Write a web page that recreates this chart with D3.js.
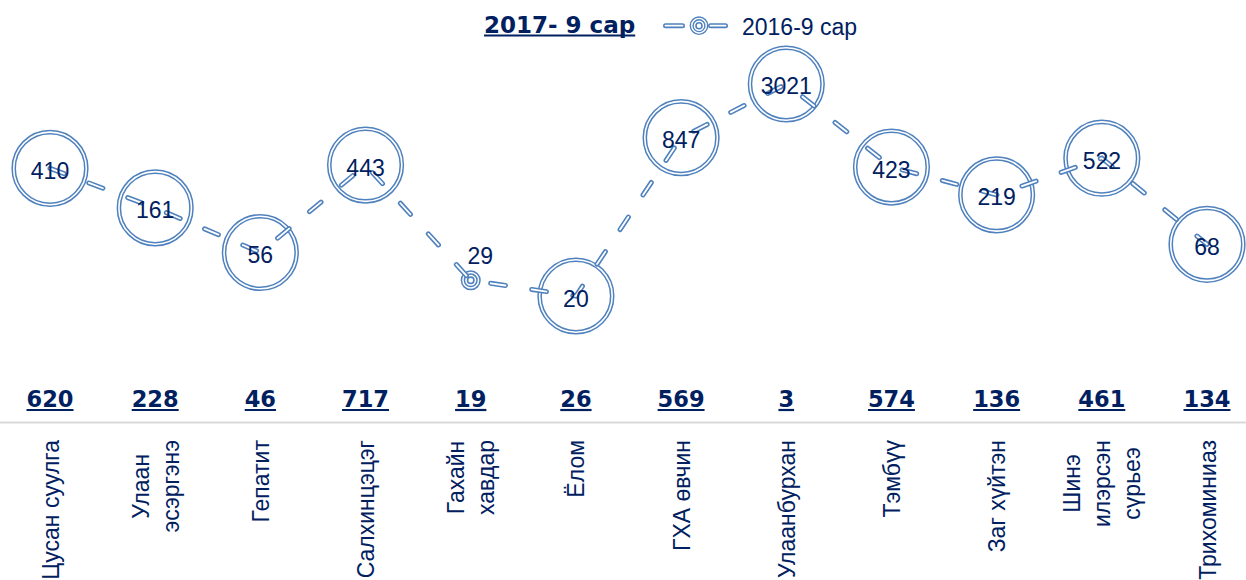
<!DOCTYPE html>
<html>
<head>
<meta charset="utf-8">
<script src="https://cdn.jsdelivr.net/npm/d3@7"></script>
<style>
  html, body { margin: 0; padding: 0; background: #ffffff; }
  svg { display: block; }
</style>
</head>
<body>
<svg id="chart" width="1246" height="580"></svg>
<script>
// ---- data ----
const categories = [
  "Цусан суулга", "Улаан\nэсэргэнэ", "Гепатит", "Салхинцэцэг", "Гахайн\nхавдар", "Ёлом",
  "ГХА өвчин", "Улаанбурхан", "Тэмбүү", "Заг хүйтэн", "Шинэ\nилэрсэн\nсүрьеэ", "Трихоминиаз"
];
const values2016 = [410, 161, 56, 443, 29, 20, 847, 3021, 423, 219, 522, 68];
const values2017 = [620, 228, 46, 717, 19, 26, 569, 3, 574, 136, 461, 134];
const seriesNames = ["2017- 9 сар", "2016-9 сар"];
const yDomain = [1, 10000];

// ---- styles ----
const BLUE = "#4F81BD";
const NAVY = "#002060";
const REG = "'Liberation Sans', Arial, sans-serif";
const BOLD = "'DejaVu Sans', Verdana, sans-serif";

const svg = d3.select("#chart");

const x = d3.scalePoint().domain(categories).range([50, 1207]);
const y = d3.scaleLog().domain(yDomain).range([422.6, 33.4]);

// axis baseline (category axis at value 1)
const xAxis = d3.axisBottom(x).tickSize(0).tickFormat("");
const axisG = svg.append("g").attr("transform", `translate(0,${y(1)})`).call(xAxis);
axisG.select(".domain").remove();
svg.append("line")
  .attr("x1", 0).attr("x2", 1246)
  .attr("y1", y(1)).attr("y2", y(1))
  .attr("stroke", "#d9d9d9").attr("stroke-width", 2);

const pts = categories.map((c, i) => ({c, v: values2016[i], i}));
const line = d3.line().x(d => x(d.c)).y(d => y(d.v));

// markers
const smallMarkerIndex = 4;
const mk = svg.append("g");
pts.forEach(d => {
  const cx = x(d.c), cy = y(d.v);
  if (d.i === smallMarkerIndex) {
    mk.append("circle").attr("cx", cx).attr("cy", cy).attr("r", 7.8)
      .attr("fill", "white").attr("stroke", BLUE).attr("stroke-width", 4.5);
    mk.append("circle").attr("cx", cx).attr("cy", cy).attr("r", 7.8)
      .attr("fill", "none").attr("stroke", "white").attr("stroke-width", 1.5);
    mk.append("circle").attr("cx", cx).attr("cy", cy).attr("r", 3.2)
      .attr("fill", "white").attr("stroke", BLUE).attr("stroke-width", 1.6);
  } else {
    mk.append("circle").attr("cx", cx).attr("cy", cy).attr("r", 36.3)
      .attr("fill", "none").attr("stroke", BLUE).attr("stroke-width", 4.6);
    mk.append("circle").attr("cx", cx).attr("cy", cy).attr("r", 36.3)
      .attr("fill", "none").attr("stroke", "white").attr("stroke-width", 1.6);
  }
});

// dashed compound line
svg.append("path").datum(pts).attr("d", line)
  .attr("fill", "none").attr("stroke", BLUE).attr("stroke-width", 5)
  .attr("stroke-linecap", "round").attr("stroke-dasharray", "15 26.5");
svg.append("path").datum(pts).attr("d", line)
  .attr("fill", "none").attr("stroke", "white").attr("stroke-width", 1.8)
  .attr("stroke-linecap", "round").attr("stroke-dasharray", "15 26.5");

// 2016 data labels
pts.forEach(d => {
  const small = d.i === smallMarkerIndex;
  svg.append("text")
    .attr("x", x(d.c) + (small ? 9.5 : 0))
    .attr("y", y(d.v) + (small ? -16.5 : 10.5))
    .attr("text-anchor", "middle")
    .attr("font-family", REG).attr("font-size", 23)
    .attr("fill", NAVY)
    .text(d.v);
});

// 2017 values row (bold underlined)
function underlined(g, tx, ty, txt, size, anchor) {
  const t = g.append("text").attr("x", tx).attr("y", ty)
    .attr("text-anchor", anchor)
    .attr("font-family", BOLD).attr("font-weight", "bold").attr("font-size", size)
    .attr("fill", NAVY).text(txt);
  const bb = t.node().getBBox();
  g.append("line").attr("x1", bb.x).attr("x2", bb.x + bb.width)
    .attr("y1", ty + 3).attr("y2", ty + 3)
    .attr("stroke", NAVY).attr("stroke-width", 2.2);
}
const row = svg.append("g");
categories.forEach((c, i) => underlined(row, x(c), 407, values2017[i], 22.5, "middle"));

// category labels, rotated
const catG = svg.append("g");
categories.forEach(c => {
  const lines = c.split("\n");
  const g = catG.append("g").attr("transform", `translate(${x(c)},0) rotate(-90)`);
  const texts = lines.map((ln, k) => g.append("text")
    .attr("font-family", REG).attr("font-size", 23).attr("fill", NAVY)
    .attr("text-anchor", "middle")
    .attr("y", 8.5 + (k - (lines.length - 1) / 2) * 30)
    .text(ln));
  const L = d3.max(texts, t => t.node().getComputedTextLength());
  texts.forEach(t => t.attr("x", -(440 + L / 2)));
});

// legend
const lg = svg.append("g");
underlined(lg, 484, 32.5, seriesNames[0], 23, "start");
const ly = 25.7;
[[663, 685], [708, 728]].forEach(([a, b]) => {
  lg.append("line").attr("x1", a + 2.5).attr("x2", b - 2.5).attr("y1", ly).attr("y2", ly)
    .attr("stroke", BLUE).attr("stroke-width", 5).attr("stroke-linecap", "round");
  lg.append("line").attr("x1", a + 2.5).attr("x2", b - 2.5).attr("y1", ly).attr("y2", ly)
    .attr("stroke", "white").attr("stroke-width", 1.8).attr("stroke-linecap", "round");
});
lg.append("circle").attr("cx", 699).attr("cy", ly).attr("r", 7.3)
  .attr("fill", "white").attr("stroke", BLUE).attr("stroke-width", 4.2);
lg.append("circle").attr("cx", 699).attr("cy", ly).attr("r", 7.3)
  .attr("fill", "none").attr("stroke", "white").attr("stroke-width", 1.4);
lg.append("circle").attr("cx", 699).attr("cy", ly).attr("r", 3)
  .attr("fill", "white").attr("stroke", BLUE).attr("stroke-width", 1.6);
lg.append("text").attr("x", 742).attr("y", 34.5)
  .attr("font-family", REG).attr("font-size", 23).attr("fill", NAVY)
  .text(seriesNames[1]);
</script>
</body>
</html>
